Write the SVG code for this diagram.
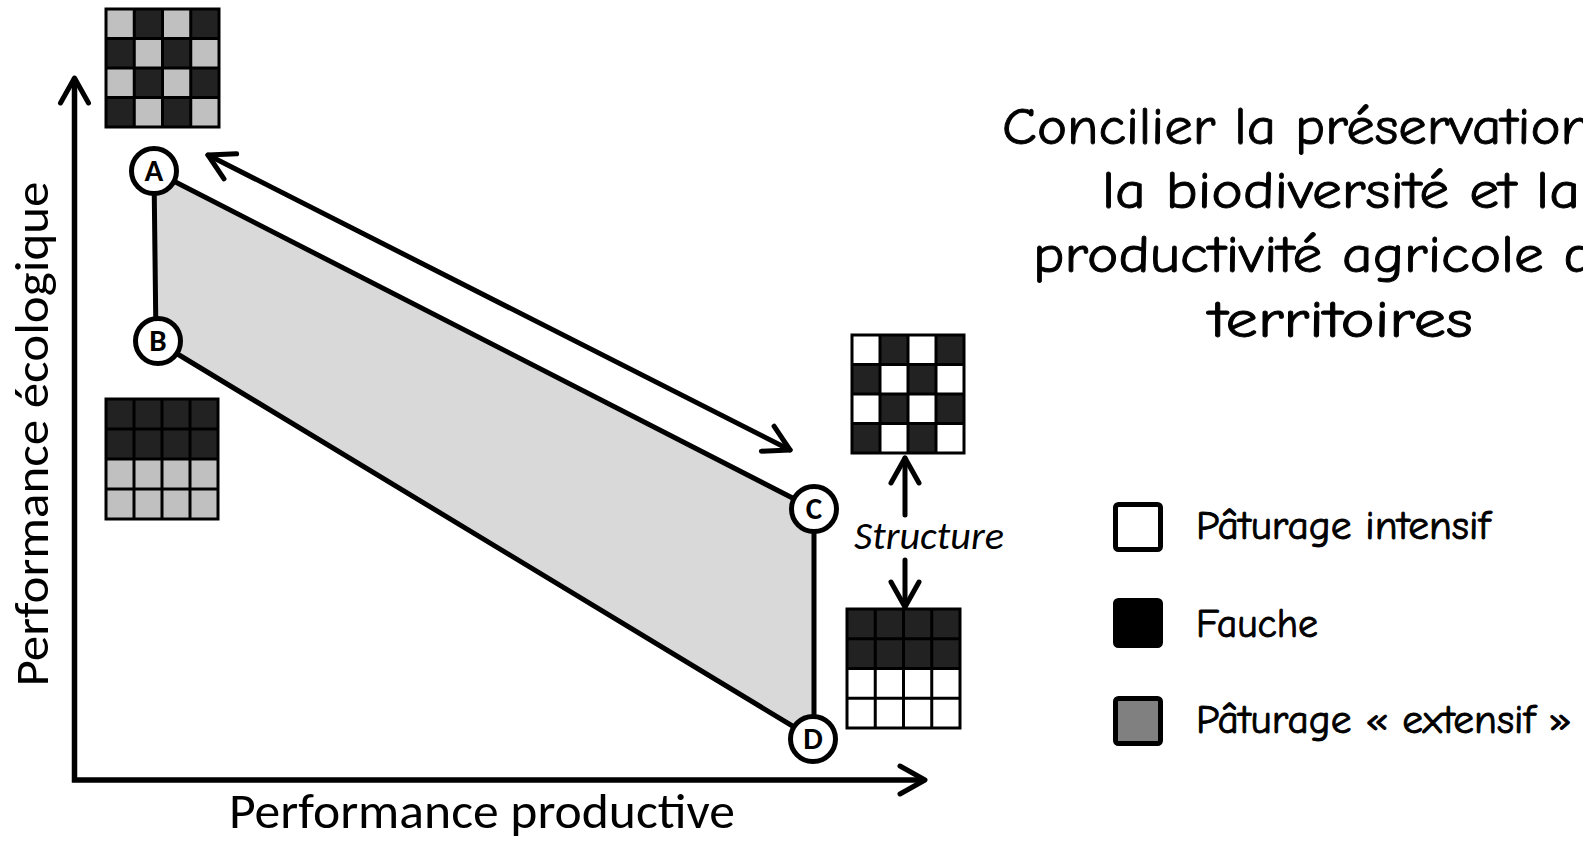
<svg xmlns="http://www.w3.org/2000/svg" width="1583" height="848" viewBox="0 0 1583 848">
<defs>
<style>
.ln{fill:none;stroke:#000;stroke-width:5;stroke-linecap:round}
.ax{fill:none;stroke:#000;stroke-width:5.5;stroke-linejoin:miter}
.pt{fill:#fff;stroke:#000;stroke-width:5}
.ptl{font-family:Calibri,Carlito,'Liberation Sans',sans-serif;font-weight:bold;font-size:31px;text-anchor:middle;fill:#000}
.dk{fill:#222}
.lt{fill:#c0c0c0}
.wh{fill:#fff}
.gl{stroke:#000;stroke-width:3;fill:none}
.cal{font-family:Calibri,Carlito,'Liberation Sans',sans-serif;fill:#000}
.com{font-family:'Comic Sans MS','Comic Neue','DejaVu Sans',sans-serif;fill:#000;stroke:#000;stroke-width:0.9}
.lg{stroke:#000;stroke-width:5}
</style>
<marker id="ah" markerUnits="userSpaceOnUse" orient="auto-start-reverse" overflow="visible" viewBox="-30 -30 60 60" refX="0" refY="0" markerWidth="60" markerHeight="60">
<path d="M-25,-14 L0,0 L-25,14" fill="none" stroke="#000" stroke-width="5" stroke-linecap="round" stroke-linejoin="round"/>
</marker>
</defs>
<rect width="1583" height="848" fill="#fff"/>

<g id="zone">
<polygon points="154,171 814,509 814,739 156,341" fill="#d9d9d9" stroke="#000" stroke-width="5" stroke-linejoin="round"/>
</g>

<g id="connectors">
<path class="ax" d="M74.5,78 L74.5,780 L925,780" marker-start="url(#ah)" marker-end="url(#ah)"/>
<line class="ln" x1="208" y1="155" x2="790" y2="450" marker-start="url(#ah)" marker-end="url(#ah)"/>
<line class="ln" x1="905" y1="515" x2="905" y2="458" marker-end="url(#ah)"/>
<line class="ln" x1="905" y1="560" x2="905" y2="607" marker-end="url(#ah)"/>
</g>

<g id="nodeA">
<circle class="pt" cx="154" cy="171" r="22.5"/>
<text class="ptl" x="154" y="181">A</text>
</g>
<g id="nodeB">
<circle class="pt" cx="158" cy="341" r="22.5"/>
<text class="ptl" x="158" y="351">B</text>
</g>
<g id="nodeC">
<circle class="pt" cx="814" cy="509" r="22.5"/>
<text class="ptl" x="814" y="519">C</text>
</g>
<g id="nodeD">
<circle class="pt" cx="813" cy="739" r="22.5"/>
<text class="ptl" x="813" y="749">D</text>
</g>

<g id="gridA" transform="translate(106,9)">
<rect class="dk" width="113" height="118"/>
<rect class="lt" x="0" y="0" width="28.25" height="29.5"/>
<rect class="lt" x="56.5" y="0" width="28.25" height="29.5"/>
<rect class="lt" x="28.25" y="29.5" width="28.25" height="29.5"/>
<rect class="lt" x="84.75" y="29.5" width="28.25" height="29.5"/>
<rect class="lt" x="0" y="59" width="28.25" height="29.5"/>
<rect class="lt" x="56.5" y="59" width="28.25" height="29.5"/>
<rect class="lt" x="28.25" y="88.5" width="28.25" height="29.5"/>
<rect class="lt" x="84.75" y="88.5" width="28.25" height="29.5"/>
<path class="gl" d="M28.25,0V118M56.5,0V118M84.75,0V118M0,29.5H113M0,59H113M0,88.5H113"/>
<rect class="gl" width="113" height="118"/>
</g>

<g id="gridB" transform="translate(106,399)">
<rect class="dk" width="112" height="60"/>
<rect class="lt" y="60" width="112" height="60"/>
<path class="gl" d="M28,0V120M56,0V120M84,0V120M0,30H112M0,60H112M0,90H112"/>
<rect class="gl" width="112" height="120"/>
</g>

<g id="gridC" transform="translate(852,335)">
<rect class="dk" width="112" height="118"/>
<rect class="wh" x="0" y="0" width="28" height="29.5"/>
<rect class="wh" x="56" y="0" width="28" height="29.5"/>
<rect class="wh" x="28" y="29.5" width="28" height="29.5"/>
<rect class="wh" x="84" y="29.5" width="28" height="29.5"/>
<rect class="wh" x="0" y="59" width="28" height="29.5"/>
<rect class="wh" x="56" y="59" width="28" height="29.5"/>
<rect class="wh" x="28" y="88.5" width="28" height="29.5"/>
<rect class="wh" x="84" y="88.5" width="28" height="29.5"/>
<path class="gl" d="M28,0V118M56,0V118M84,0V118M0,29.5H112M0,59H112M0,88.5H112"/>
<rect class="gl" width="112" height="118"/>
</g>

<g id="gridD" transform="translate(847,609)">
<rect class="dk" width="113" height="59.5"/>
<rect class="wh" y="59.5" width="113" height="59.5"/>
<path class="gl" d="M28.25,0V119M56.5,0V119M84.75,0V119M0,29.75H113M0,59.5H113M0,89.25H113"/>
<rect class="gl" width="113" height="119"/>
</g>

<g id="structure">
<text class="cal" x="854" y="549" font-size="38" font-style="italic" textLength="150" lengthAdjust="spacingAndGlyphs">Structure</text>
</g>

<g id="axis-labels">
<text class="cal" x="229" y="828" font-size="49" textLength="506" lengthAdjust="spacingAndGlyphs">Performance productive</text>
<text class="cal" transform="translate(48,434) rotate(-90)" x="0" y="0" font-size="48" text-anchor="middle" textLength="505" lengthAdjust="spacingAndGlyphs">Performance écologique</text>
</g>

<g id="title" class="com" font-size="53">
<text x="1002" y="144" textLength="590" lengthAdjust="spacingAndGlyphs">Concilier la préservation</text>
<text x="1102" y="208" textLength="478" lengthAdjust="spacingAndGlyphs">la biodiversité et la</text>
<text x="1033" y="272" textLength="562" lengthAdjust="spacingAndGlyphs">productivité agricole d</text>
<text x="1341" y="337" text-anchor="middle" textLength="264" lengthAdjust="spacingAndGlyphs">territoires</text>
</g>

<g id="legend-intensif">
<rect class="lg" x="1115.5" y="504.5" width="45" height="45" rx="3" fill="#fff"/>
<text class="com" x="1196" y="539" font-size="40" textLength="294" lengthAdjust="spacingAndGlyphs">Pâturage intensif</text>
</g>
<g id="legend-fauche">
<rect class="lg" x="1115.5" y="600.5" width="45" height="45" rx="3" fill="#000"/>
<text class="com" x="1196" y="637" font-size="40" textLength="122" lengthAdjust="spacingAndGlyphs">Fauche</text>
</g>
<g id="legend-extensif">
<rect class="lg" x="1115.5" y="698.5" width="45" height="45" rx="3" fill="#808080"/>
<text class="com" x="1196" y="733" font-size="40" textLength="376" lengthAdjust="spacingAndGlyphs">Pâturage « extensif »</text>
</g>
</svg>
